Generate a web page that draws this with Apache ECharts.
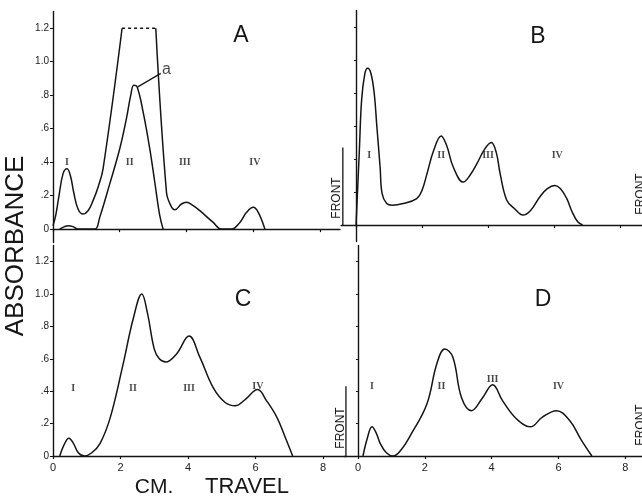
<!DOCTYPE html>
<html>
<head>
<meta charset="utf-8">
<script src="https://cdn.jsdelivr.net/npm/echarts@6/dist/echarts.min.js"></script>
<style>html,body{margin:0;padding:0;background:#fff;}#c{width:642px;height:498px;}</style>
</head>
<body>
<div id="c"></div>
<script>
// ---------- DATA ----------
// Panel A: outer trace (left part, dashed off-scale top, right part) and inner trace "a"
var aLeftX = [0, 0.08, 0.18, 0.3, 0.42, 0.52, 0.62, 0.75, 0.9, 1.05, 1.2, 1.35, 1.5, 2.07];
var aLeftY = [0.02, 0.08, 0.2, 0.33, 0.36, 0.32, 0.22, 0.12, 0.09, 0.11, 0.17, 0.25, 0.36, 1.2];
var aTopX = [2.07, 3.08];
var aTopY = [1.2, 1.2];
var aRightX = [3.08, 3.4, 3.53, 3.65, 3.85, 4.0, 4.2, 4.4, 4.8, 5.05, 5.35, 5.6, 5.8, 6.0, 6.15, 6.35];
var aRightY = [1.2, 0.22, 0.14, 0.115, 0.15, 0.16, 0.14, 0.11, 0.04, 0.0, 0.0, 0.04, 0.1, 0.13, 0.1, 0.0];
var aInnerX = [0.2, 0.35, 0.45, 0.6, 0.75, 1.0, 1.26, 1.4, 1.7, 2.0, 2.2, 2.33, 2.42, 2.52, 2.7, 2.9, 3.05, 3.2, 3.3];
var aInnerY = [0, 0.015, 0.02, 0.015, 0, 0, 0, 0.07, 0.27, 0.48, 0.66, 0.8, 0.86, 0.85, 0.7, 0.48, 0.28, 0.08, 0];
var aLeaderX = [2.54, 3.23];
var aLeaderY = [0.85, 0.93];
var aTagX = [3.4];
var aTagY = [0.955];
var aTag = ['a'];

// Panel B
var bX = [0, 0.1, 0.17, 0.27, 0.35, 0.45, 0.55, 0.63, 0.73, 0.79, 0.93, 1.1, 1.43, 1.84, 2.0, 2.15, 2.35, 2.58, 2.75, 2.95, 3.25, 3.45, 3.66, 3.9, 4.1, 4.25, 4.37, 4.57, 4.8, 5.06, 5.3, 5.57, 5.8, 6.03, 6.2, 6.39, 6.55, 6.72, 6.87];
var bY = [0, 0.45, 0.76, 0.92, 0.95, 0.92, 0.8, 0.6, 0.35, 0.19, 0.13, 0.12, 0.13, 0.16, 0.21, 0.31, 0.45, 0.54, 0.48, 0.35, 0.26, 0.3, 0.37, 0.46, 0.5, 0.44, 0.31, 0.15, 0.1, 0.06, 0.09, 0.17, 0.22, 0.24, 0.22, 0.16, 0.08, 0.02, 0];

// Panel C
var cX = [0.2, 0.33, 0.47, 0.6, 0.75, 0.93, 1.15, 1.4, 1.7, 2.08, 2.38, 2.63, 2.8, 3.0, 3.15, 3.34, 3.66, 4.03, 4.35, 4.75, 5.1, 5.4, 5.7, 6.06, 6.33, 6.63, 6.87, 7.1];
var cY = [0, 0.07, 0.11, 0.08, 0.02, 0, 0.02, 0.08, 0.24, 0.57, 0.85, 1.0, 0.88, 0.66, 0.6, 0.58, 0.63, 0.74, 0.61, 0.42, 0.33, 0.31, 0.35, 0.41, 0.34, 0.24, 0.12, 0];

// Panel D
var dX = [0.15, 0.28, 0.42, 0.55, 0.66, 0.85, 1.05, 1.3, 1.55, 2.06, 2.36, 2.6, 2.84, 3.1, 3.4, 3.73, 4.03, 4.33, 4.74, 5.16, 5.52, 5.94, 6.33, 6.68, 7.0];
var dY = [0, 0.11, 0.18, 0.14, 0.08, 0.02, 0, 0.04, 0.12, 0.32, 0.57, 0.66, 0.61, 0.36, 0.28, 0.36, 0.44, 0.34, 0.23, 0.18, 0.24, 0.28, 0.22, 0.1, 0];

// Fraction labels (roman numerals) positions per panel, in data units
var romans = ['I', 'II', 'III', 'IV'];
var romA_X = [0.42, 2.3, 3.95, 6.05]; var romA_Y = [0.4, 0.4, 0.4, 0.4];
var romB_X = [0.4, 2.58, 4.0, 6.1];  var romB_Y = [0.42, 0.42, 0.42, 0.42];
var romC_X = [0.6, 2.37, 4.03, 6.07]; var romC_Y = [0.42, 0.42, 0.42, 0.43];
var romD_X = [0.42, 2.5, 4.03, 6.0]; var romD_Y = [0.43, 0.43, 0.47, 0.43];

// Solvent-front markers (x position, marker height)
var frontB = [-0.4, 0.47];
var frontD = [-0.36, 0.43];

// Tick values / labels
var xTickValues = [0, 2, 4, 6, 8];
var xTickLabels = ['0', '2', '4', '6', '8'];
var yTickValues = [0, 0.2, 0.4, 0.6, 0.8, 1.0, 1.2];
var yTickLabels = ['0', '.2', '.4', '.6', '.8', '1.0', '1.2'];
var panelNames = ['A', 'B', 'C', 'D'];

// ---------- BUILD ----------
function zip(xs, ys) { return xs.map(function (x, i) { return [x, ys[i]]; }); }
var INK = '#141414';

function yLabelFmt(v) {
  var i = yTickValues.findIndex(function (t) { return Math.abs(t - v) < 1e-6; });
  return i >= 0 ? yTickLabels[i] : '';
}
function xLabelFmt(v) {
  var i = xTickValues.findIndex(function (t) { return Math.abs(t - v) < 1e-6; });
  return i >= 0 ? xTickLabels[i] : '';
}

var grids = [
  { left: 53, top: 11.5, width: 287, height: 231 },      // A
  { left: 341.2, top: 10.5, width: 301, height: 231 },   // B
  { left: 53, top: 245.4, width: 293, height: 210.6 },   // C
  { left: 344.6, top: 245.4, width: 298, height: 210.6 } // D
];
var xRanges = [[0, 8.6], [-0.45, 8.67], [0, 8.68], [-0.4, 8.5]];
var yRanges = [[-0.08, 1.3], [-0.1, 1.3], [0, 1.3], [0, 1.3]];
var showXLabels = [false, false, true, true];
var showYLabels = [true, false, true, false];

var xAxes = [], yAxes = [];
for (var g = 0; g < 4; g++) {
  xAxes.push({
    type: 'value', gridIndex: g, min: xRanges[g][0], max: xRanges[g][1],
    axisLine: { onZero: true, lineStyle: { color: INK, width: 1.4 } },
    axisTick: { show: true, customValues: xTickValues, length: 3, lineStyle: { color: INK, width: 1.2 } },
    axisLabel: { show: showXLabels[g], customValues: xTickValues, formatter: xLabelFmt, color: '#222', fontSize: 11, fontFamily: 'Liberation Sans', margin: 6 },
    splitLine: { show: false }
  });
  yAxes.push({
    type: 'value', gridIndex: g, min: yRanges[g][0], max: yRanges[g][1],
    axisLine: { show: true, onZero: true, lineStyle: { color: INK, width: 1.4 } },
    axisTick: { show: true, customValues: yTickValues, length: showYLabels[g] ? 3 : 2, lineStyle: { color: INK, width: 1 } },
    axisLabel: { show: showYLabels[g], customValues: yTickValues, formatter: yLabelFmt, color: '#222', fontSize: 10, fontFamily: 'Liberation Sans', margin: 4 },
    splitLine: { show: false }
  });
}

function curve(g, xs, ys, dashed) {
  return {
    type: 'line', xAxisIndex: g, yAxisIndex: g, data: zip(xs, ys),
    showSymbol: false, symbol: 'none', smooth: dashed ? false : 0.4,
    lineStyle: { color: INK, width: 1.5, type: dashed ? [3, 3] : 'solid' },
    silent: true, animation: false, z: 3
  };
}
function straight(g, xs, ys) {
  return {
    type: 'line', xAxisIndex: g, yAxisIndex: g, data: zip(xs, ys),
    showSymbol: false, symbol: 'none', smooth: false,
    lineStyle: { color: INK, width: 1.3 }, silent: true, animation: false, z: 3
  };
}
function labels(g, xs, ys, texts, font, size, weight) {
  return {
    type: 'scatter', xAxisIndex: g, yAxisIndex: g, symbolSize: 0, silent: true, animation: false,
    data: xs.map(function (x, i) { return { value: [x, ys[i]], label: { formatter: texts[i] } }; }),
    label: { show: true, position: 'inside', color: '#1a1a1a', fontFamily: font, fontSize: size, fontWeight: weight || 'bold' },
    z: 4
  };
}

var series = [
  curve(0, aLeftX, aLeftY), curve(0, aTopX, aTopY, true), curve(0, aRightX, aRightY),
  curve(0, aInnerX, aInnerY), straight(0, aLeaderX, aLeaderY),
  labels(0, aTagX, aTagY, aTag, 'Liberation Sans', 16, 'normal'),
  labels(0, romA_X, romA_Y, romans, 'Liberation Serif', 10),
  curve(1, bX, bY),
  labels(1, romB_X, romB_Y, romans, 'Liberation Serif', 10),
  straight(1, [frontB[0], frontB[0]], [0, frontB[1]]),
  curve(2, cX, cY),
  labels(2, romC_X, romC_Y, romans, 'Liberation Serif', 10),
  curve(3, dX, dY),
  labels(3, romD_X, romD_Y, romans, 'Liberation Serif', 10),
  straight(3, [frontD[0], frontD[0]], [0, frontD[1]])
];

function txt(text, x, y, size, rot, align) {
  return {
    type: 'text', x: x, y: y, rotation: rot || 0, silent: true,
    style: { text: text, fill: '#161616', fontSize: size, fontFamily: 'Liberation Sans', align: align || 'center', verticalAlign: 'middle' }
  };
}

var graphic = [
  txt(panelNames[0], 241, 36, 23), txt(panelNames[1], 538, 37, 23),
  txt(panelNames[2], 243, 300, 23), txt(panelNames[3], 543, 300, 23),
  txt('ABSORBANCE', 16, 246, 26, Math.PI / 2),
  txt('CM.', 154, 487, 21), txt('TRAVEL', 247, 487, 22),
  txt('FRONT', 337, 198, 12, Math.PI / 2), txt('FRONT', 341, 428, 12, Math.PI / 2),
  txt('FRONT', 641, 194, 12, Math.PI / 2), txt('FRONT', 641, 425, 12, Math.PI / 2)
];

var chart = echarts.init(document.getElementById('c'), null, { renderer: 'canvas' });
chart.setOption({
  backgroundColor: '#ffffff',
  animation: false,
  grid: grids,
  xAxis: xAxes,
  yAxis: yAxes,
  series: series,
  graphic: graphic
});
</script>
</body>
</html>
